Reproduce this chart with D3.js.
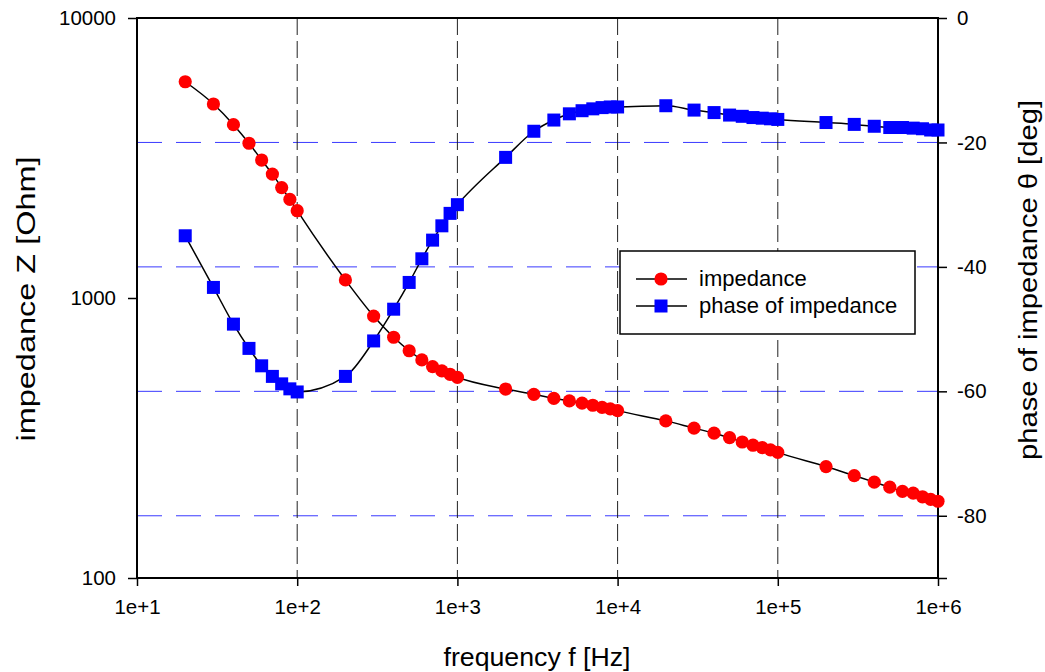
<!DOCTYPE html>
<html>
<head>
<meta charset="utf-8">
<script src="https://cdn.jsdelivr.net/npm/d3@7"></script>
<style>
  html, body { margin: 0; padding: 0; background: #fff; }
  svg { display: block; font-family: Arial, "Liberation Sans", sans-serif; }
</style>
</head>
<body>
<svg id="chart" width="1045" height="672"></svg>
<script>
// ---- data ----
const frequency = [20,30,40,50,60,70,80,90,100,
  200,300,400,500,600,700,800,900,1000,
  2000,3000,4000,5000,6000,7000,8000,9000,10000,
  20000,30000,40000,50000,60000,70000,80000,90000,100000,
  200000,300000,400000,500000,600000,700000,800000,900000,1000000];
const impedance = [5920,4930,4160,3570,3110,2770,2480,2250,2050,
  1160,862,724,648,601,569,549,534,521,
  473,453,438,429,421,414,407,402,396,
  364,343,329,317,306,298,292,287,281,
  250,232,220,211,204,201,195,191,188];
const phase = [-35.0,-43.3,-49.2,-53.1,-55.9,-57.6,-58.8,-59.6,-60.1,
  -57.6,-51.9,-46.8,-42.5,-38.7,-35.7,-33.4,-31.4,-30.0,
  -22.4,-18.2,-16.4,-15.4,-14.9,-14.6,-14.4,-14.3,-14.3,
  -14.1,-14.8,-15.2,-15.6,-15.8,-16.0,-16.1,-16.2,-16.3,
  -16.8,-17.1,-17.4,-17.6,-17.6,-17.7,-17.8,-18.0,-18.0];
const xTicks = [1e1,1e2,1e3,1e4,1e5,1e6];
const xTickLabels = ["1e+1","1e+2","1e+3","1e+4","1e+5","1e+6"];
const yLeftTicks = [100,1000,10000];
const yLeftTickLabels = ["100","1000","10000"];
const yRightTicks = [0,-20,-40,-60,-80,-90];
const yRightTickLabels = ["0","-20","-40","-60","-80",""];
const seriesNames = ["impedance","phase of impedance"];

// ---- layout ----
const svg = d3.select("#chart");
const L = 137, R = 938, T = 18, B = 578;

const x = d3.scaleLog().domain([10,1e6]).range([L,R]);
const yL = d3.scaleLog().domain([100,10000]).range([B,T]);
const yR = d3.scaleLinear().domain([-90,0]).range([B,T]);

svg.append("rect").attr("width",1045).attr("height",672).attr("fill","#fff");

// horizontal blue dashed grid (right axis ticks)
svg.append("g").selectAll("line")
  .data(yRightTicks.filter(d => d !== 0 && d !== -90))
  .join("line")
  .attr("x1",L).attr("x2",R)
  .attr("y1",d => yR(d)).attr("y2",d => yR(d))
  .attr("stroke","#3a3aff").attr("stroke-width",1)
  .attr("stroke-dasharray","25,14");

// vertical black dashed grid
svg.append("g").selectAll("line")
  .data(xTicks.slice(1,-1))
  .join("line")
  .attr("x1",d => x(d)).attr("x2",d => x(d))
  .attr("y1",T).attr("y2",B)
  .attr("stroke","#222").attr("stroke-width",1)
  .attr("stroke-dasharray","17,6");

// axes
const fmtX = d => xTickLabels[xTicks.indexOf(d)];
const xAxis = d3.axisBottom(x).tickValues(xTicks).tickFormat(fmtX).tickSize(8).tickPadding(13);
const gx = svg.append("g").attr("transform",`translate(0,${B})`).call(xAxis);
const yAxisL = d3.axisLeft(yL).tickValues(yLeftTicks)
  .tickFormat(d => yLeftTickLabels[yLeftTicks.indexOf(d)]).tickSize(9).tickPadding(12);
const gyl = svg.append("g").attr("transform",`translate(${L},0)`).call(yAxisL);
const yAxisR = d3.axisRight(yR).tickValues(yRightTicks)
  .tickFormat(d => yRightTickLabels[yRightTicks.indexOf(d)]).tickSize(9).tickPadding(10);
const gyr = svg.append("g").attr("transform",`translate(${R},0)`).call(yAxisR);

[gx,gyl,gyr].forEach(g => {
  g.select(".domain").remove();
  g.selectAll(".tick line").attr("stroke","#000").attr("stroke-width",1.5);
  g.selectAll("text").attr("font-size",20.5).attr("fill","#000")
    .attr("font-family","Arial, 'Liberation Sans', sans-serif");
});

// frame
svg.append("rect").attr("x",L).attr("y",T).attr("width",R-L).attr("height",B-T)
  .attr("fill","none").attr("stroke","#000").attr("stroke-width",2);

// series
const impData = frequency.map((f,i) => ({f, v: impedance[i]}));
const phData = frequency.map((f,i) => ({f, v: phase[i]}));

const lineImp = d3.line().x(d => x(d.f)).y(d => yL(d.v)).curve(d3.curveMonotoneX);
const linePh = d3.line().x(d => x(d.f)).y(d => yR(d.v)).curve(d3.curveMonotoneX);

svg.append("path").datum(impData).attr("d",lineImp)
  .attr("fill","none").attr("stroke","#000").attr("stroke-width",1.5);
svg.append("path").datum(phData).attr("d",linePh)
  .attr("fill","none").attr("stroke","#000").attr("stroke-width",1.5);

svg.append("g").selectAll("circle").data(impData).join("circle")
  .attr("cx",d => x(d.f)).attr("cy",d => yL(d.v)).attr("r",6.6)
  .attr("fill","#ff0000");

const S = 13;
svg.append("g").selectAll("rect").data(phData).join("rect")
  .attr("x",d => x(d.f)-S/2).attr("y",d => yR(d.v)-S/2)
  .attr("width",S).attr("height",S).attr("fill","#0000ff");

// legend
const lg = svg.append("g");
lg.append("rect").attr("x",620).attr("y",251).attr("width",295).attr("height",83)
  .attr("fill","#fff").attr("stroke","#000").attr("stroke-width",1.5);
const rows = [279, 306];
rows.forEach((yy,i) => {
  lg.append("line").attr("x1",636).attr("x2",687).attr("y1",yy).attr("y2",yy)
    .attr("stroke","#000").attr("stroke-width",1.5);
  if (i === 0) {
    lg.append("circle").attr("cx",661).attr("cy",yy).attr("r",6.6).attr("fill","#ff0000");
  } else {
    lg.append("rect").attr("x",661-S/2).attr("y",yy-S/2).attr("width",S).attr("height",S).attr("fill","#0000ff");
  }
  lg.append("text").attr("x",699).attr("y",yy+7).attr("font-size",22).attr("fill","#000")
    .text(seriesNames[i]);
});

// axis titles
svg.append("text").attr("x",537).attr("y",666).attr("text-anchor","middle")
  .attr("font-size",25).attr("fill","#000")
  .attr("textLength",187).attr("lengthAdjust","spacingAndGlyphs")
  .text("frequency f [Hz]");
svg.append("text").attr("transform","translate(35,299) rotate(-90)").attr("text-anchor","middle")
  .attr("font-size",25).attr("fill","#000")
  .attr("textLength",285).attr("lengthAdjust","spacingAndGlyphs")
  .text("impedance Z [Ohm]");
svg.append("text").attr("transform","translate(1037,280) rotate(-90)").attr("text-anchor","middle")
  .attr("font-size",25).attr("fill","#000")
  .attr("textLength",360).attr("lengthAdjust","spacingAndGlyphs")
  .text("phase of impedance θ [deg]");
</script>
</body>
</html>
